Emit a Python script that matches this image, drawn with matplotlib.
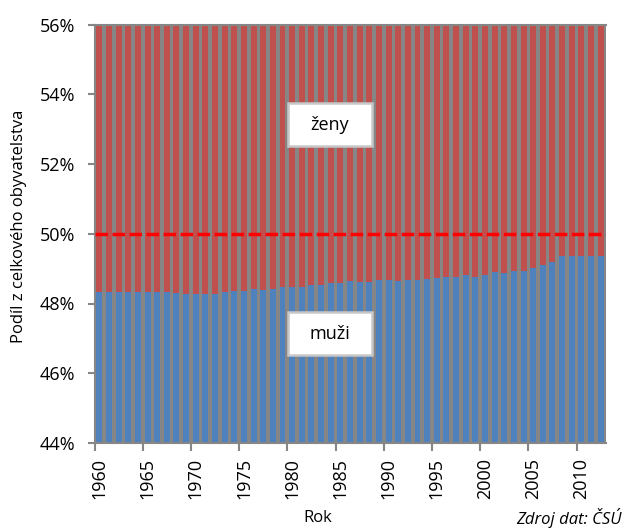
import matplotlib
matplotlib.use("Agg")
import matplotlib.pyplot as plt
from matplotlib.patches import Rectangle
import numpy as np

years = list(range(1960, 2013))
muzi = [48.32, 48.32, 48.32, 48.32, 48.32, 48.33, 48.33, 48.33, 48.29, 48.27,
        48.27, 48.27, 48.27, 48.32, 48.37, 48.37, 48.41, 48.40, 48.43, 48.47,
        48.46, 48.47, 48.54, 48.54, 48.58, 48.58, 48.64, 48.62, 48.62, 48.68,
        48.68, 48.64, 48.68, 48.68, 48.70, 48.72, 48.76, 48.77, 48.82, 48.77,
        48.82, 48.90, 48.88, 48.92, 48.92, 49.03, 49.09, 49.19, 49.36, 49.36,
        49.36, 49.36, 49.36]
zeny = [100 - m for m in muzi]
ytick_vals = [44, 46, 48, 50, 52, 54, 56]
xtick_years = [1960, 1965, 1970, 1975, 1980, 1985, 1990, 1995, 2000, 2005, 2010]

plt.rcParams['font.family'] = ['Open Sans', 'DejaVu Sans']
GRAY = '#868686'

fig = plt.figure(figsize=(6.25, 5.3), dpi=100)
ax = fig.add_axes([94.5/625, 1-443/530, 511/625, 418.5/530])
ax.set_facecolor(GRAY)

x = np.arange(len(years))
ax.bar(x, muzi, width=0.62, color='#4f81bd', bottom=0, zorder=2)
ax.bar(x, zeny, width=0.62, color='#c0504d', bottom=muzi, zorder=2)
ax.axhline(50, color='#ff0000', lw=2.5, dashes=(3.6, 1.3), zorder=3)

ax.set_xlim(-0.5, len(years) - 0.5)
ax.set_ylim(44, 56)

ax.set_yticks(ytick_vals)
ax.set_yticklabels([f"{v}%" for v in ytick_vals], fontsize=13)
major_pos = [years.index(y) - 0.5 for y in xtick_years]
ax.set_xticks(major_pos)
ax.set_xticklabels([])
ax.set_xticks([years.index(y) for y in xtick_years], minor=True)
ax.set_xticklabels([str(y) for y in xtick_years], minor=True, rotation=90, fontsize=13)
ax.tick_params(axis='x', which='major', length=6, width=1.5, color=GRAY)
ax.tick_params(axis='x', which='minor', length=0, pad=11)
ax.tick_params(axis='y', length=5, width=1.5, color=GRAY, pad=9)

for s in ['left', 'bottom', 'top']:
    ax.spines[s].set_color(GRAY)
    ax.spines[s].set_linewidth(1.5)
ax.spines['right'].set_visible(False)

for (bx, by) in [(288, 146), (288, 355)]:
    fig.patches.append(Rectangle((bx/625, 1-by/530), 84/625, 43/530,
                       transform=fig.transFigure, facecolor='white',
                       edgecolor='#c8c8c8', lw=1.8, zorder=4))
fig.text(330/625, 1-125/530, 'ženy', ha='center', va='center', fontsize=13, zorder=6)
fig.text(330/625, 1-334/530, 'muži', ha='center', va='center', fontsize=13, zorder=6)

fig.text(19/625, 1-226/530, 'Podíl z celkového obyvatelstva', rotation=90,
         ha='center', va='center', fontsize=12)
fig.text(318/625, 1-518/530, 'Rok', ha='center', va='center', fontsize=12)
fig.text(622/625, 1-518/530, 'Zdroj dat: ČSÚ', ha='right', va='center', fontsize=12, style='italic')

fig.savefig('out.png', dpi=100)
